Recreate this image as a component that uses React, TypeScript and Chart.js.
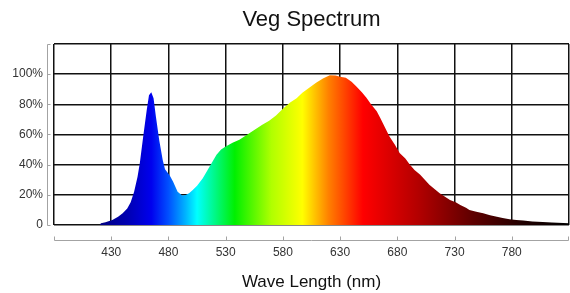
import { useEffect, useRef } from 'react';
import { Chart, registerables } from 'chart.js';

Chart.register(...registerables);

// Wavelength (nm) samples and relative intensity (%)
const WAVELENGTHS = [
  420, 421, 425, 431, 436, 440, 444, 447, 450, 453, 455, 458, 461, 463, 465, 467, 469, 472, 475, 477,
  481, 484, 488, 492, 495, 498, 501, 505, 510, 516, 522, 526, 530, 536, 542, 551, 562, 568, 574, 580,
  586, 592, 597, 603, 609, 615, 621, 626, 630, 635, 640, 644, 649, 653, 657, 662, 665, 669, 673, 678,
  682, 687, 691, 695, 700, 704, 708, 713, 717, 722, 726, 731, 735, 740, 743, 749, 755, 761, 767, 772,
  778, 784, 790, 798, 807, 815, 825, 830,
];
const INTENSITY = [
  0, 1.1, 1.8, 3.3, 5.5, 7.8, 11, 15, 22, 32, 41, 59, 76, 86, 88, 84, 72, 56, 43, 37,
  33, 28.8, 22, 19.5, 19.8, 21, 23, 26, 31, 38.8, 46.6, 50, 52, 54.5, 56.5, 61, 66.5, 69, 72.5, 77,
  81, 84, 87.6, 91, 94.3, 97, 99.3, 99, 98.3, 97.6, 95, 92, 88, 84.3, 80, 75.4, 71, 65, 58.8, 53,
  47.7, 44, 40, 36.5, 33.3, 30, 26.6, 23.5, 21, 18.5, 16.6, 15, 13.3, 11.5, 10, 8.8, 7.8, 6.5, 5.5, 4.6,
  3.8, 3.3, 2.9, 2.4, 2, 1.6, 1.3, 1.1,
];
const X_TICKS = [380, 430, 480, 530, 580, 630, 680, 730, 780, 830];
const X_LABELS = ['', '430', '480', '530', '580', '630', '680', '730', '780', ''];
const Y_TICKS = [0, 20, 40, 60, 80, 100, 120];
const Y_LABELS = ['0', '20%', '40%', '60%', '80%', '100%', ''];

// spectral colour stops (nm -> colour)
const GRAD_NM = [420, 445, 465, 480, 495, 505, 538, 570, 597, 620, 650, 700, 745, 790, 830];
const GRAD_COLORS = [
  '#000080', '#0000b4', '#0000ee', '#0050ff', '#00b4ff', '#00ffff', '#00f000', '#b0ff00',
  '#ffff00', '#ff8000', '#ff0000', '#b00000', '#600000', '#200000', '#000000',
];

const FONT = 'Liberation Sans, Arial, Helvetica, sans-serif';

const offsetAxes = {
  id: 'offsetAxes',
  afterDraw(chart: any) {
    const { ctx, chartArea, scales } = chart;
    const x = scales.x;
    const y = scales.y;
    ctx.save();
    ctx.strokeStyle = '#a3a3a3';
    ctx.lineWidth = 1;
    ctx.beginPath();
    const ax = Math.round(chartArea.left) - 6.5;
    const yTop = Math.round(y.getPixelForValue(Y_TICKS[Y_TICKS.length - 1])) + 0.5;
    const yBot = Math.round(y.getPixelForValue(Y_TICKS[0])) + 0.5;
    ctx.moveTo(ax, yTop);
    ctx.lineTo(ax, yBot);
    Y_TICKS.forEach((v) => {
      const py = Math.round(y.getPixelForValue(v)) + 0.5;
      ctx.moveTo(ax, py);
      ctx.lineTo(ax + 3, py);
    });
    const ay = Math.round(chartArea.bottom) + 15.5;
    const xl = Math.round(x.getPixelForValue(X_TICKS[0])) + 0.5;
    const xr = Math.round(x.getPixelForValue(X_TICKS[X_TICKS.length - 1])) - 0.5;
    ctx.moveTo(xl, ay);
    ctx.lineTo(xr, ay);
    X_TICKS.forEach((v, i) => {
      let px = Math.round(x.getPixelForValue(v)) + 0.5;
      if (i === X_TICKS.length - 1) px = xr;
      ctx.moveTo(px, ay);
      ctx.lineTo(px, ay - 4);
    });
    ctx.stroke();
    ctx.restore();
  },
};

export default function App() {
  const ref = useRef<HTMLCanvasElement | null>(null);

  useEffect(() => {
    if (!ref.current) return;
    const points = WAVELENGTHS.map((nm, i) => ({ x: nm, y: INTENSITY[i] }));
    const chart = new Chart(ref.current, {
      type: 'line',
      data: {
        datasets: [
          {
            data: points,
            fill: 'origin',
            borderWidth: 0,
            pointRadius: 0,
            tension: 0,
            backgroundColor: (context: any) => {
              const c = context.chart;
              const { ctx, chartArea, scales } = c;
              if (!chartArea || !scales.x) return '#0000ff';
              const g = ctx.createLinearGradient(chartArea.left, 0, chartArea.right, 0);
              const w = chartArea.right - chartArea.left;
              GRAD_NM.forEach((nm, i) => {
                const p = (scales.x.getPixelForValue(nm) - chartArea.left) / w;
                g.addColorStop(Math.min(1, Math.max(0, p)), GRAD_COLORS[i]);
              });
              return g;
            },
          },
        ],
      },
      options: {
        animation: false,
        responsive: false,
        devicePixelRatio: 1,
        layout: { padding: { left: 0, right: 1, top: 0, bottom: 0 } },
        plugins: {
          legend: { display: false },
          tooltip: { enabled: false },
          title: {
            display: true,
            fullSize: false,
            text: 'Veg Spectrum',
            color: '#111',
            font: { family: FONT, size: 22, weight: 'normal' },
            padding: { top: 7, bottom: 10.5 },
          },
        },
        scales: {
          x: {
            type: 'linear',
            min: X_TICKS[0],
            max: X_TICKS[X_TICKS.length - 1],
            afterBuildTicks: (s: any) => {
              s.ticks = X_TICKS.map((v) => ({ value: v }));
            },
            afterFit: (s: any) => {
              s.height = 68;
              s.paddingLeft = 0;
              s.paddingRight = 0;
            },
            ticks: {
              autoSkip: false,
              maxRotation: 0,
              padding: 20,
              color: '#333',
              font: { family: FONT, size: 12 },
              callback: (v: any) => {
                const i = X_TICKS.indexOf(Number(v));
                return i >= 0 ? X_LABELS[i] : '';
              },
            },
            grid: { color: '#111', lineWidth: 1.5, drawTicks: false },
            border: { display: false },
            title: {
              display: true,
              text: 'Wave Length (nm)',
              color: '#111',
              font: { family: FONT, size: 17 },
              padding: { top: 0, bottom: 0 },
            },
          },
          y: {
            min: Y_TICKS[0],
            max: Y_TICKS[Y_TICKS.length - 1],
            afterBuildTicks: (s: any) => {
              s.ticks = Y_TICKS.map((v) => ({ value: v }));
            },
            afterFit: (s: any) => {
              s.width = 54;
              s.paddingTop = 0;
              s.paddingBottom = 0;
            },
            ticks: {
              padding: 11,
              color: '#333',
              font: { family: FONT, size: 12 },
              callback: (v: any) => {
                const i = Y_TICKS.indexOf(Number(v));
                return i >= 0 ? Y_LABELS[i] : '';
              },
            },
            grid: { color: '#111', lineWidth: 1.5, drawTicks: false },
            border: { display: false },
          },
        },
      },
      plugins: [offsetAxes],
    } as any);
    return () => chart.destroy();
  }, []);

  return (
    <canvas
      ref={ref}
      width={570}
      height={293}
      style={{ position: 'absolute', left: 0, top: 0, width: 570, height: 293 }}
    />
  );
}
